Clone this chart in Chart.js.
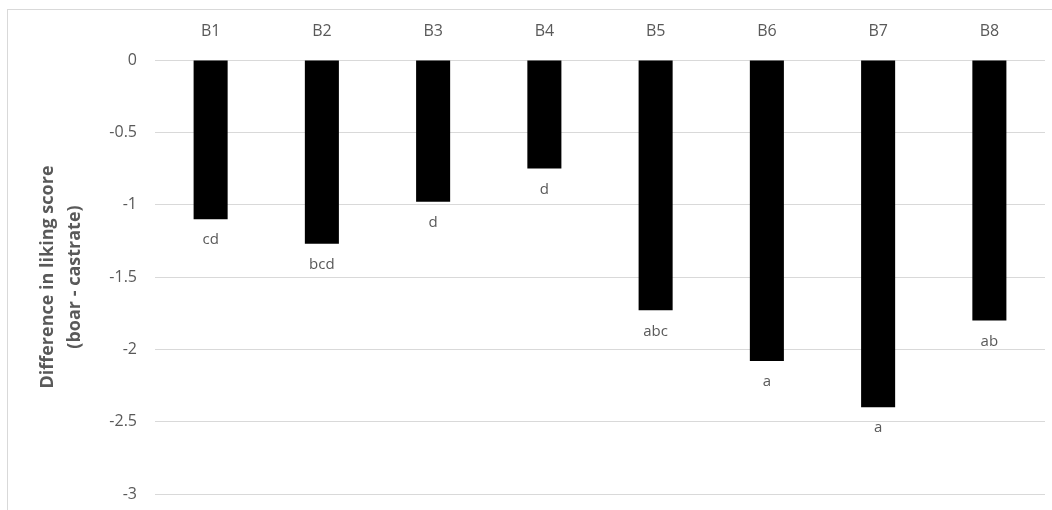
<!DOCTYPE html>
<html>
<head>
    <title>Difference in liking score</title>
    <script src="https://cdn.jsdelivr.net/npm/chart.js@4/dist/chart.umd.min.js"></script>
    <style>
        body { margin: 0; background: #fff; }
        #frame { position: absolute; left: 7px; top: 9px; width: 1100px; height: 600px; border: 1px solid #d9d9d9; }
        #wrap { position: absolute; left: 0; top: 0; width: 1052px; height: 510px; }
    </style>
</head>
<body>
    <div id="frame"></div>
    <div id="wrap">
        <canvas id="myChart"></canvas>
    </div>
    <script>
        // breeds and the boar - castrate difference
        var categories = ['B1', 'B2', 'B3', 'B4', 'B5', 'B6', 'B7', 'B8'];
        var diffValues = [-1.10, -1.27, -0.98, -0.75, -1.73, -2.08, -2.40, -1.80];
        var sigLetters = ['cd', 'bcd', 'd', 'd', 'abc', 'a', 'a', 'ab'];
        var yTicks = [0, -0.5, -1, -1.5, -2, -2.5, -3];

        var fontFamily = '"Open Sans", "DejaVu Sans", sans-serif';

        // letters under each bar end
        var letterPlugin = {
            id: 'letters',
            afterDatasetsDraw: function (chart) {
                var ctx = chart.ctx;
                var meta = chart.getDatasetMeta(0);
                ctx.save();
                ctx.fillStyle = '#595959';
                ctx.font = '15px ' + fontFamily;
                ctx.textAlign = 'center';
                ctx.textBaseline = 'middle';
                meta.data.forEach(function (bar, i) {
                    ctx.fillText(sigLetters[i], bar.x, bar.y + 21);
                });
                ctx.restore();
            }
        };

        var ctx = document.getElementById('myChart').getContext('2d');
        var myChart = new Chart(ctx, {
            type: 'bar',
            data: {
                labels: categories,
                datasets: [{
                    label: 'Difference',
                    data: diffValues,
                    backgroundColor: '#000000',
                    borderWidth: 0,
                    categoryPercentage: 1,
                    barPercentage: 0.306
                }]
            },
            options: {
                responsive: true,
                maintainAspectRatio: false,
                animation: false,
                layout: { padding: { left: 0, right: 7, top: 0, bottom: 16 } },
                plugins: {
                    legend: { display: false },
                    tooltip: { enabled: false }
                },
                scales: {
                    x: {
                        position: 'top',
                        grid: { display: false, drawTicks: false },
                        border: { display: false },
                        ticks: {
                            color: '#595959',
                            font: { family: fontFamily, size: 16 },
                            padding: 19
                        },
                        afterFit: function (s) { s.height = 60; }
                    },
                    y: {
                        min: -3,
                        max: 0,
                        afterBuildTicks: function (s) {
                            s.ticks = yTicks.map(function (v) { return { value: v }; });
                        },
                        // invisible tick marks give the gap between labels and plot
                        grid: { color: '#d9d9d9', lineWidth: 1, drawTicks: true, tickLength: 18, tickColor: 'rgba(0,0,0,0)' },
                        border: { display: false },
                        ticks: {
                            color: '#595959',
                            font: { family: fontFamily, size: 16 },
                            padding: 0,
                            callback: function (v) { return String(v); }
                        },
                        title: {
                            display: true,
                            text: ['Difference in liking score', '(boar - castrate)'],
                            color: '#595959',
                            font: { family: fontFamily, size: 18, weight: 'bold', lineHeight: 1.5 },
                            padding: { top: 34, bottom: 0 }
                        },
                        afterFit: function (s) { s.width = 155; }
                    }
                }
            },
            plugins: [letterPlugin]
        });
    </script>
</body>
</html>
